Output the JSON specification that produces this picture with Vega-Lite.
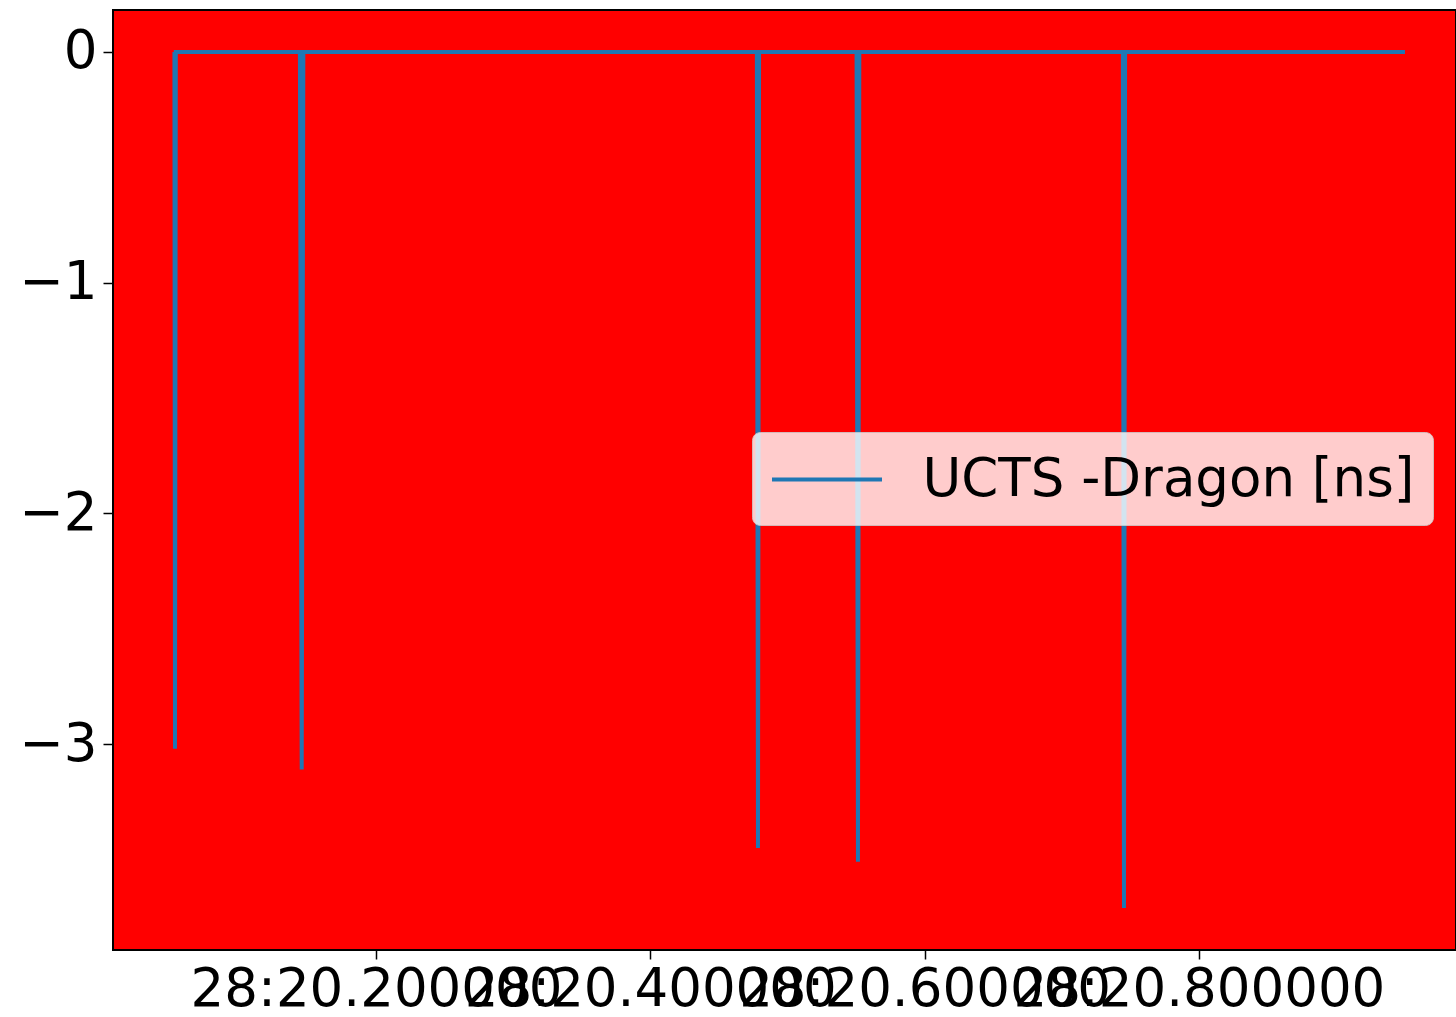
{
  "$schema": "https://vega.github.io/schema/vega-lite/v6.json",
  "autosize": {"type": "none"},
  "padding": {"left": 113, "top": 10, "right": 0, "bottom": 67},
  "width": 1343,
  "height": 940,
  "background": "white",
  "config": {
    "view": {"fill": "#ff0000", "stroke": "#000000", "strokeWidth": 2},
    "font": "DejaVu Sans"
  },
  "data": {
    "values": [
      {"t": 0.0530, "v": 0, "series": "UCTS -Dragon [ns]"},
      {"t": 0.0534, "v": -3.02, "series": "UCTS -Dragon [ns]"},
      {"t": 0.0540, "v": 0, "series": "UCTS -Dragon [ns]"},
      {"t": 0.1445, "v": 0, "series": "UCTS -Dragon [ns]"},
      {"t": 0.1458, "v": -3.11, "series": "UCTS -Dragon [ns]"},
      {"t": 0.1470, "v": 0, "series": "UCTS -Dragon [ns]"},
      {"t": 0.4777, "v": 0, "series": "UCTS -Dragon [ns]"},
      {"t": 0.4785, "v": -3.45, "series": "UCTS -Dragon [ns]"},
      {"t": 0.4793, "v": 0, "series": "UCTS -Dragon [ns]"},
      {"t": 0.5504, "v": 0, "series": "UCTS -Dragon [ns]"},
      {"t": 0.5514, "v": -3.51, "series": "UCTS -Dragon [ns]"},
      {"t": 0.5524, "v": 0, "series": "UCTS -Dragon [ns]"},
      {"t": 0.7446, "v": 0, "series": "UCTS -Dragon [ns]"},
      {"t": 0.7454, "v": -3.71, "series": "UCTS -Dragon [ns]"},
      {"t": 0.7462, "v": 0, "series": "UCTS -Dragon [ns]"},
      {"t": 0.9503, "v": 0, "series": "UCTS -Dragon [ns]"}
    ]
  },
  "mark": {"type": "line", "strokeWidth": 4, "clip": true},
  "encoding": {
    "x": {
      "field": "t",
      "type": "quantitative",
      "scale": {"domain": [0.0082, 0.9875], "nice": false, "zero": false},
      "axis": {
        "title": null,
        "values": [0.2, 0.4, 0.6, 0.8],
        "labelExpr": "'28:' + format(20 + datum.value, '.6f')",
        "labelOverlap": false,
        "labelFlush": false,
        "labelBound": false,
        "labelLimit": 1000,
        "labelFontSize": 53,
        "labelColor": "#000000",
        "labelPadding": 4,
        "tickSize": 9,
        "tickWidth": 1.5,
        "tickColor": "#000000",
        "domain": false,
        "grid": false
      }
    },
    "y": {
      "field": "v",
      "type": "quantitative",
      "scale": {"domain": [-3.892, 0.182], "nice": false, "zero": false},
      "axis": {
        "title": null,
        "values": [0, -1, -2, -3],
        "format": "d",
        "labelOverlap": false,
        "labelFlush": false,
        "labelBound": false,
        "labelFontSize": 53,
        "labelColor": "#000000",
        "labelPadding": 6,
        "tickSize": 10,
        "tickWidth": 1.5,
        "tickColor": "#000000",
        "domain": false,
        "grid": false
      }
    },
    "color": {
      "field": "series",
      "type": "nominal",
      "scale": {"range": ["#1f77b4"]},
      "legend": {
        "title": null,
        "orient": "none",
        "legendX": 639,
        "legendY": 422,
        "symbolType": "M-2,0H2",
        "symbolSize": 3025,
        "symbolOffset": 27.5,
        "symbolStrokeWidth": 4,
        "labelFontSize": 53,
        "labelLimit": 1000,
        "labelColor": "#000000",
        "labelOffset": 66,
        "fillColor": "rgba(255,255,255,0.8)",
        "strokeColor": "rgba(204,204,204,0.8)",
        "cornerRadius": 8,
        "padding": 18
      }
    }
  }
}
